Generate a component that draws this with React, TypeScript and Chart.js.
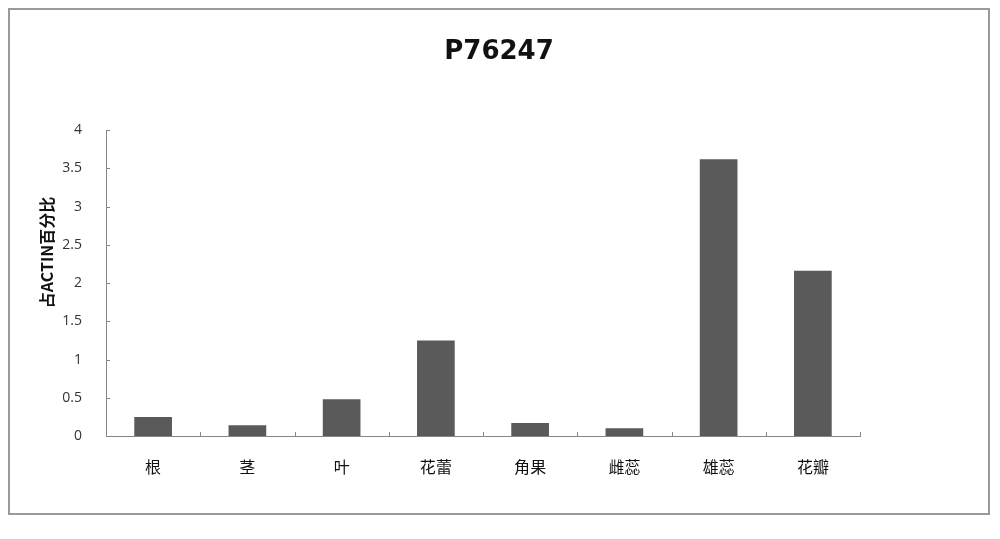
import { useEffect, useRef } from 'react';
import Chart from 'chart.js/auto';

const categories = ['根', '茎', '叶', '花蕾', '角果', '雌蕊', '雄蕊', '花瓣'];
const values = [0.25, 0.14, 0.48, 1.25, 0.17, 0.1, 3.62, 2.16];
const yTicks = [0, 0.5, 1, 1.5, 2, 2.5, 3, 3.5, 4];
const title = 'P76247';
const yTitle = '占ACTIN百分比';

const AXIS = '#868686';

// Excel-style inward tick marks and the y title
const excelTicks = {
  id: 'excelTicks',
  afterDraw(chart: Chart) {
    const { ctx, chartArea } = chart;
    const x = chart.scales.x;
    const y = chart.scales.y;
    ctx.save();
    ctx.strokeStyle = AXIS;
    ctx.lineWidth = 1;
    ctx.beginPath();
    yTicks.forEach((v) => {
      const py = Math.round(y.getPixelForValue(v)) + 0.5;
      ctx.moveTo(x.left, py);
      ctx.lineTo(x.left + 4, py);
    });
    const step = (x.right - x.left) / categories.length;
    for (let i = 0; i <= categories.length; i++) {
      const px = Math.round(x.left + i * step) + 0.5;
      ctx.moveTo(px, y.bottom);
      ctx.lineTo(px, y.bottom - 4);
    }
    ctx.stroke();

    ctx.translate(37, chartArea.top + (chartArea.bottom - chartArea.top) * 0.4);
    ctx.rotate(-Math.PI / 2);
    ctx.fillStyle = '#111';
    ctx.font = 'bold 16px "Noto Sans CJK SC", "DejaVu Sans"';
    ctx.textAlign = 'center';
    ctx.textBaseline = 'middle';
    ctx.fillText(yTitle, 0, 0);
    ctx.restore();
  },
};

export default function App() {
  const canvasRef = useRef<HTMLCanvasElement>(null);
  const chartRef = useRef<Chart | null>(null);

  useEffect(() => {
    if (!canvasRef.current) return;
    if (chartRef.current) chartRef.current.destroy();

    chartRef.current = new Chart(canvasRef.current, {
      type: 'bar',
      data: {
        labels: categories,
        datasets: [
          {
            data: values,
            backgroundColor: '#5a5a5a',
            borderWidth: 0,
            barPercentage: 0.4,
            categoryPercentage: 1,
          },
        ],
      },
      options: {
        responsive: false,
        animation: false,
        layout: { padding: 0 },
        plugins: {
          legend: { display: false },
          tooltip: { enabled: false },
          title: {
            display: true,
            text: title,
            color: '#111',
            font: { family: '"DejaVu Sans"', size: 26, weight: 'bold' },
            padding: { top: 27, bottom: 62 },
          },
        },
        scales: {
          x: {
            grid: { display: false },
            border: { display: true, color: AXIS, width: 1 },
            ticks: {
              color: '#111',
              padding: 13,
              font: { family: '"Noto Sans CJK SC"', size: 16 },
            },
            afterFit: (scale) => {
              scale.height = 77;
            },
          },
          y: {
            min: 0,
            max: 4,
            grid: { display: false },
            border: { display: true, color: AXIS, width: 1 },
            afterBuildTicks: (scale) => {
              scale.ticks = yTicks.map((v) => ({ value: v }));
            },
            ticks: {
              color: '#333',
              padding: 16,
              font: { family: '"Open Sans"', size: 14 },
              callback: (v) => String(v),
            },
            afterFit: (scale) => {
              scale.width = 96;
            },
          },
          // empty right-hand space, like the Excel plot area
          spacer: {
            type: 'linear',
            position: 'right',
            grid: { display: false },
            border: { display: false },
            ticks: { display: false },
            afterFit: (scale) => {
              scale.width = 128;
            },
          },
        },
      },
      plugins: [excelTicks],
    });

    return () => {
      if (chartRef.current) {
        chartRef.current.destroy();
        chartRef.current = null;
      }
    };
  }, []);

  return (
    <div style={{ width: 978, height: 503, border: '2px solid #9a9a9a', background: '#fff' }}>
      <canvas ref={canvasRef} width={978} height={503} />
    </div>
  );
}
